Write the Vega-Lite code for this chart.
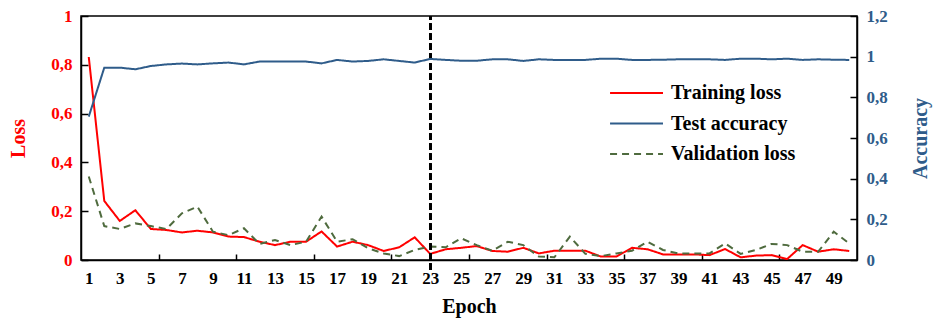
{
  "$schema": "https://vega.github.io/schema/vega-lite/v6.json",
  "autosize": "none",
  "padding": {"left": 81, "top": 16, "right": 76, "bottom": 62},
  "width": 776,
  "height": 244,
  "background": "white",
  "config": {
    "font": "Liberation Serif",
    "view": {"stroke": "black", "strokeWidth": 1.5},
    "axis": {
      "grid": false,
      "domainColor": "black",
      "domainWidth": 1.5,
      "tickColor": "black",
      "tickWidth": 1.5,
      "labelFont": "Liberation Serif",
      "labelFontSize": 17,
      "labelFontWeight": "bold",
      "titleFont": "Liberation Serif",
      "titleFontSize": 20,
      "titleFontWeight": "bold"
    },
    "axisX": {"labelOverlap": false, "labelFlush": false}
  },
  "data": {
    "values": [
      {"epoch": 1, "Training loss": 0.832, "Validation loss": 0.342, "Test accuracy": 0.705},
      {"epoch": 2, "Training loss": 0.242, "Validation loss": 0.139, "Test accuracy": 0.946},
      {"epoch": 3, "Training loss": 0.160, "Validation loss": 0.127, "Test accuracy": 0.946},
      {"epoch": 4, "Training loss": 0.204, "Validation loss": 0.150, "Test accuracy": 0.938},
      {"epoch": 5, "Training loss": 0.127, "Validation loss": 0.139, "Test accuracy": 0.954},
      {"epoch": 6, "Training loss": 0.123, "Validation loss": 0.127, "Test accuracy": 0.962},
      {"epoch": 7, "Training loss": 0.113, "Validation loss": 0.191, "Test accuracy": 0.966},
      {"epoch": 8, "Training loss": 0.120, "Validation loss": 0.219, "Test accuracy": 0.962},
      {"epoch": 9, "Training loss": 0.113, "Validation loss": 0.116, "Test accuracy": 0.967},
      {"epoch": 10, "Training loss": 0.096, "Validation loss": 0.102, "Test accuracy": 0.971},
      {"epoch": 11, "Training loss": 0.094, "Validation loss": 0.130, "Test accuracy": 0.962},
      {"epoch": 12, "Training loss": 0.075, "Validation loss": 0.066, "Test accuracy": 0.976},
      {"epoch": 13, "Training loss": 0.061, "Validation loss": 0.082, "Test accuracy": 0.976},
      {"epoch": 14, "Training loss": 0.075, "Validation loss": 0.061, "Test accuracy": 0.976},
      {"epoch": 15, "Training loss": 0.075, "Validation loss": 0.075, "Test accuracy": 0.976},
      {"epoch": 16, "Training loss": 0.117, "Validation loss": 0.178, "Test accuracy": 0.967},
      {"epoch": 17, "Training loss": 0.055, "Validation loss": 0.075, "Test accuracy": 0.984},
      {"epoch": 18, "Training loss": 0.075, "Validation loss": 0.085, "Test accuracy": 0.976},
      {"epoch": 19, "Training loss": 0.061, "Validation loss": 0.048, "Test accuracy": 0.979},
      {"epoch": 20, "Training loss": 0.037, "Validation loss": 0.027, "Test accuracy": 0.987},
      {"epoch": 21, "Training loss": 0.052, "Validation loss": 0.016, "Test accuracy": 0.979},
      {"epoch": 22, "Training loss": 0.093, "Validation loss": 0.041, "Test accuracy": 0.971},
      {"epoch": 23, "Training loss": 0.025, "Validation loss": 0.055, "Test accuracy": 0.989},
      {"epoch": 24, "Training loss": 0.044, "Validation loss": 0.052, "Test accuracy": 0.984},
      {"epoch": 25, "Training loss": 0.050, "Validation loss": 0.089, "Test accuracy": 0.980},
      {"epoch": 26, "Training loss": 0.057, "Validation loss": 0.061, "Test accuracy": 0.980},
      {"epoch": 27, "Training loss": 0.037, "Validation loss": 0.038, "Test accuracy": 0.987},
      {"epoch": 28, "Training loss": 0.034, "Validation loss": 0.075, "Test accuracy": 0.987},
      {"epoch": 29, "Training loss": 0.050, "Validation loss": 0.061, "Test accuracy": 0.979},
      {"epoch": 30, "Training loss": 0.027, "Validation loss": 0.014, "Test accuracy": 0.987},
      {"epoch": 31, "Training loss": 0.038, "Validation loss": 0.011, "Test accuracy": 0.984},
      {"epoch": 32, "Training loss": 0.038, "Validation loss": 0.096, "Test accuracy": 0.984},
      {"epoch": 33, "Training loss": 0.038, "Validation loss": 0.025, "Test accuracy": 0.984},
      {"epoch": 34, "Training loss": 0.014, "Validation loss": 0.016, "Test accuracy": 0.990},
      {"epoch": 35, "Training loss": 0.014, "Validation loss": 0.027, "Test accuracy": 0.990},
      {"epoch": 36, "Training loss": 0.050, "Validation loss": 0.038, "Test accuracy": 0.984},
      {"epoch": 37, "Training loss": 0.044, "Validation loss": 0.075, "Test accuracy": 0.984},
      {"epoch": 38, "Training loss": 0.023, "Validation loss": 0.041, "Test accuracy": 0.985},
      {"epoch": 39, "Training loss": 0.023, "Validation loss": 0.027, "Test accuracy": 0.987},
      {"epoch": 40, "Training loss": 0.023, "Validation loss": 0.027, "Test accuracy": 0.987},
      {"epoch": 41, "Training loss": 0.020, "Validation loss": 0.027, "Test accuracy": 0.987},
      {"epoch": 42, "Training loss": 0.045, "Validation loss": 0.068, "Test accuracy": 0.984},
      {"epoch": 43, "Training loss": 0.011, "Validation loss": 0.025, "Test accuracy": 0.990},
      {"epoch": 44, "Training loss": 0.018, "Validation loss": 0.041, "Test accuracy": 0.990},
      {"epoch": 45, "Training loss": 0.020, "Validation loss": 0.066, "Test accuracy": 0.987},
      {"epoch": 46, "Training loss": 0.004, "Validation loss": 0.061, "Test accuracy": 0.990},
      {"epoch": 47, "Training loss": 0.061, "Validation loss": 0.034, "Test accuracy": 0.984},
      {"epoch": 48, "Training loss": 0.034, "Validation loss": 0.034, "Test accuracy": 0.987},
      {"epoch": 49, "Training loss": 0.044, "Validation loss": 0.116, "Test accuracy": 0.985},
      {"epoch": 50, "Training loss": 0.037, "Validation loss": 0.068, "Test accuracy": 0.984}
    ]
  },
  "encoding": {
    "x": {
      "field": "epoch",
      "type": "quantitative",
      "scale": {"domain": [0.5, 50.5], "nice": false, "zero": false},
      "axis": {
        "title": "Epoch",
        "titlePadding": 10,
        "values": [1, 3, 5, 5.5, 7, 9, 10.5, 11, 13, 15, 15.5, 17, 19, 20.5, 21, 23, 25, 25.5, 27, 29, 30.5, 31, 33, 35, 35.5, 37, 39, 40.5, 41, 43, 45, 45.5, 47, 49],
        "labelExpr": "datum.value % 1 ? '' : datum.label",
        "labelOverlap": false,
        "labelFlush": false,
        "labelColor": "black",
        "titleColor": "black",
        "tickSize": -6,
        "tickOpacity": {"condition": {"test": "datum.value % 1 == 0", "value": 0}, "value": 1},
        "labelPadding": 16
      }
    }
  },
  "layer": [
    {
      "layer": [
        {
          "transform": [{"fold": ["Training loss", "Validation loss"], "as": ["series", "value"]}],
          "mark": {"type": "line", "strokeWidth": 2},
          "encoding": {
            "y": {
              "field": "value",
              "type": "quantitative",
              "scale": {"domain": [0, 1], "nice": false},
              "axis": {
                "title": "Loss",
                "titleColor": "#FF0000",
                "labelColor": "#FF0000",
                "values": [0, 0.2, 0.4, 0.6, 0.8, 1],
                "format": ".1~f",
                "labelExpr": "replace(datum.label, '.', ',')",
                "tickSize": -7,
                "labelPadding": 16,
                "titlePadding": 22
              }
            },
            "color": {
              "field": "series",
              "type": "nominal",
              "scale": {"domain": ["Training loss", "Test accuracy", "Validation loss"], "range": ["#FF0000", "#2F5C8A", "#4F6B3E"]},
              "legend": {
                "title": null,
                "orient": "none",
                "legendX": 551,
                "legendY": 61,
                "symbolType": "M-2.53,0H1",
                "symbolSize": 900,
                "symbolStrokeWidth": 2,
                "labelFont": "Liberation Serif",
                "labelFontSize": 20,
                "labelFontWeight": "bold",
                "labelColor": "black",
                "labelOffset": 7,
                "rowPadding": 4.5
              }
            },
            "strokeDash": {
              "field": "series",
              "type": "nominal",
              "scale": {"domain": ["Training loss", "Test accuracy", "Validation loss"], "range": [[1, 0], [1, 0], [7, 5]]},
              "legend": {
                "title": null,
                "orient": "none",
                "legendX": 551,
                "legendY": 61,
                "symbolType": "M-2.53,0H1",
                "symbolSize": 900,
                "symbolStrokeWidth": 2,
                "labelFont": "Liberation Serif",
                "labelFontSize": 20,
                "labelFontWeight": "bold",
                "labelColor": "black",
                "labelOffset": 7,
                "rowPadding": 4.5
              }
            }
          }
        },
        {
          "mark": {"type": "rule", "color": "black", "strokeWidth": 2, "strokeDash": [6, 4]},
          "encoding": {
            "x": {"datum": 23, "type": "quantitative"},
            "y": {"datum": -0.04, "type": "quantitative"},
            "y2": {"datum": 1}
          }
        }
      ]
    },
    {
      "transform": [{"fold": ["Test accuracy"], "as": ["series", "value"]}],
      "mark": {"type": "line", "strokeWidth": 2},
      "encoding": {
        "y": {
          "field": "value",
          "type": "quantitative",
          "scale": {"domain": [0, 1.2], "nice": false},
          "axis": {
            "orient": "right",
            "title": "Accuracy",
            "titleAngle": 270,
            "titleColor": "#2F5C8A",
            "labelColor": "#2F5C8A",
            "values": [0, 0.2, 0.4, 0.6, 0.8, 1, 1.2],
            "format": ".1~f",
            "labelExpr": "replace(datum.label, '.', ',')",
            "tickSize": -7,
            "labelPadding": 16,
            "titlePadding": 43
          }
        },
        "color": {"field": "series", "type": "nominal"},
        "strokeDash": {"field": "series", "type": "nominal"}
      }
    }
  ],
  "resolve": {"scale": {"y": "independent"}}
}
